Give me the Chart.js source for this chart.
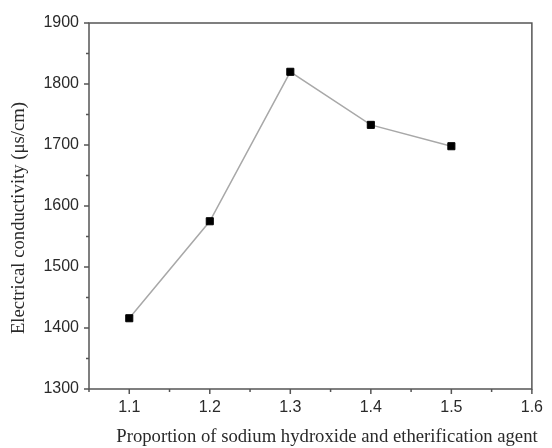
<!DOCTYPE html>
<html>
<head>
<meta charset="utf-8">
<script src="https://cdn.jsdelivr.net/npm/chart.js@4/dist/chart.umd.min.js"></script>
<style>
  html, body { margin: 0; padding: 0; background: #fff; }
  #chart { display: block; }
</style>
</head>
<body>
<canvas id="chart" width="552" height="448"></canvas>
<script>
// Data
const proportions = [1.1, 1.2, 1.3, 1.4, 1.5];
const conductivity = [1416, 1575, 1820, 1733, 1698];

const xMajorTicks = [1.1, 1.2, 1.3, 1.4, 1.5, 1.6];
const xMinorTicks = [1.05, 1.15, 1.25, 1.35, 1.45, 1.55];
const yMajorTicks = [1300, 1400, 1500, 1600, 1700, 1800, 1900];
const yMinorTicks = [1350, 1450, 1550, 1650, 1750, 1850];

const xTitle = 'Proportion of sodium hydroxide and etherification agent';
const yTitle = 'Electrical conductivity (\u03bcs/cm)';

const axisColor = '#555555';
const textColor = '#2a2a2a';

// Boxed frame, outward ticks and axis titles
const framePlugin = {
    id: 'frame',
    afterDraw(chart) {
        const { ctx, chartArea: a, scales } = chart;
        ctx.save();
        ctx.strokeStyle = axisColor;
        ctx.lineWidth = 1.5;
        ctx.strokeRect(a.left, a.top, a.right - a.left, a.bottom - a.top);

        ctx.beginPath();
        xMajorTicks.forEach(v => {
            const px = scales.x.getPixelForValue(v);
            ctx.moveTo(px, a.bottom);
            ctx.lineTo(px, a.bottom + 5);
        });
        xMinorTicks.forEach(v => {
            const px = scales.x.getPixelForValue(v);
            ctx.moveTo(px, a.bottom);
            ctx.lineTo(px, a.bottom + 3);
        });
        yMajorTicks.forEach(v => {
            const py = scales.y.getPixelForValue(v);
            ctx.moveTo(a.left, py);
            ctx.lineTo(a.left - 5, py);
        });
        yMinorTicks.forEach(v => {
            const py = scales.y.getPixelForValue(v);
            ctx.moveTo(a.left, py);
            ctx.lineTo(a.left - 3, py);
        });
        ctx.stroke();

        // axis titles
        ctx.fillStyle = textColor;
        ctx.font = "18.7px 'Liberation Serif', 'Times New Roman', serif";
        ctx.textAlign = 'center';
        ctx.textBaseline = 'middle';
        ctx.fillText(xTitle, 327, 437);

        ctx.translate(19, 218);
        ctx.rotate(-Math.PI / 2);
        ctx.fillText(yTitle, 0, 0);
        ctx.restore();
    }
};

new Chart(document.getElementById('chart'), {
    type: 'line',
    data: {
        datasets: [{
            data: proportions.map((x, i) => ({ x: x, y: conductivity[i] })),
            borderColor: '#a8a8a8',
            borderWidth: 1.5,
            pointStyle: 'rect',
            pointRadius: 5,
            pointBackgroundColor: '#000000',
            pointBorderColor: '#000000',
            pointBorderWidth: 1,
            tension: 0
        }]
    },
    options: {
        responsive: false,
        animation: false,
        layout: {
            padding: { left: 0, top: 23, right: 13, bottom: 0 }
        },
        plugins: {
            legend: { display: false },
            tooltip: { enabled: false }
        },
        scales: {
            x: {
                type: 'linear',
                min: 1.05,
                max: 1.6,
                afterBuildTicks: scale => {
                    scale.ticks = xMajorTicks.map(v => ({ value: v }));
                },
                afterFit: scale => { scale.height = 59; },
                grid: { display: false, drawTicks: false },
                border: { display: false },
                ticks: {
                    color: textColor,
                    padding: 9,
                    maxRotation: 0,
                    font: { family: "'Liberation Sans', Arial, sans-serif", size: 16 },
                    callback: v => v.toFixed(1)
                }
            },
            y: {
                min: 1300,
                max: 1900,
                afterBuildTicks: scale => {
                    scale.ticks = yMajorTicks.map(v => ({ value: v }));
                },
                afterFit: scale => { scale.width = 89; },
                grid: { display: false, drawTicks: false },
                border: { display: false },
                ticks: {
                    color: textColor,
                    padding: 10,
                    font: { family: "'Liberation Sans', Arial, sans-serif", size: 16 },
                    callback: v => String(v)
                }
            }
        }
    },
    plugins: [framePlugin]
});
</script>
</body>
</html>
